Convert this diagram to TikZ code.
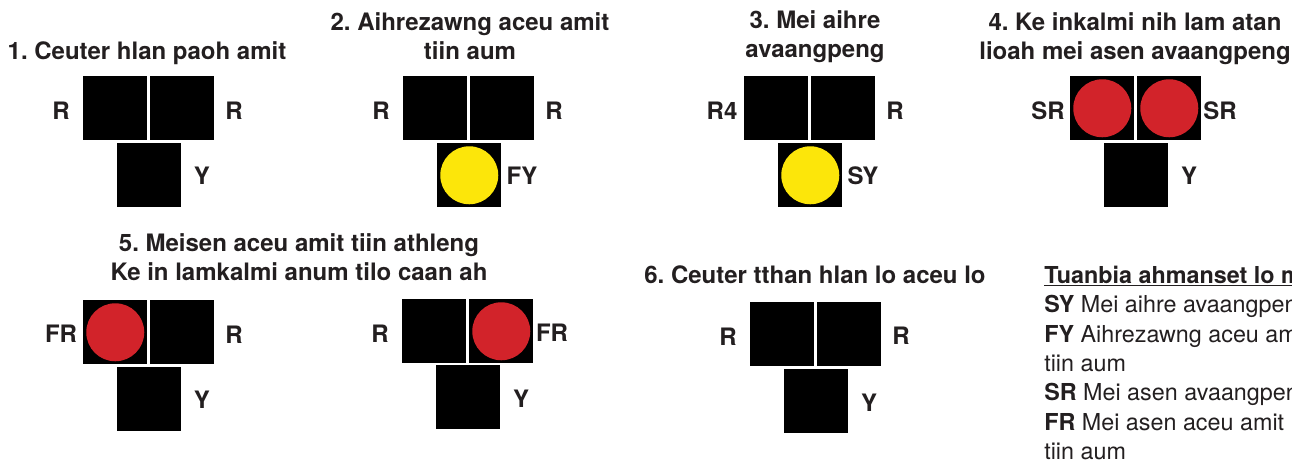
\documentclass[tikz,border=0pt]{standalone}
\usepackage{fontspec}
\setmainfont{TeX Gyre Heros}
\frenchspacing
\definecolor{inkgray}{HTML}{231F20}
\definecolor{lampred}{HTML}{D2232A}
\definecolor{lampyellow}{HTML}{FCE60A}
\tikzset{
  lampbox/.style={fill=black, inner sep=0pt, minimum size=48pt, anchor=north west},
  redlamp/.style={circle, fill=lampred, inner sep=0pt, minimum size=43.5pt},
  yellowlamp/.style={circle, fill=lampyellow, inner sep=0pt, minimum size=43.5pt},
  sig/.style={text=inkgray, inner sep=0pt, font=\fontsize{18}{18}\bfseries\selectfont},
  heading/.style={text=inkgray, inner sep=0pt, align=center, font=\fontsize{18}{21.5}\bfseries\selectfont},
  legend/.style={text=inkgray, inner sep=0pt, align=left, anchor=north west, font=\fontsize{17.5}{22}\selectfont}
}
\begin{document}
\begin{tikzpicture}[x=0.75pt, y=-0.75pt]
\useasboundingbox (0,0) rectangle (1292,461);
\clip (0,0) rectangle (1292,461);

% top row
\node[heading] (head1) at (147, 53) {1. Ceuter hlan paoh amit};
\node[lampbox] (a1l) at (83, 76) {};
\node[lampbox] (a1r) at (150, 76) {};
\node[lampbox] (a1b) at (117, 143) {};
\node[sig] (t1l) at (61, 111) {R};
\node[sig] (t1r) at (234, 111) {R};
\node[sig] (t1b) at (202, 176) {Y};

\node[heading] (head2) at (470, 36) {2. Aihrezawng aceu amit\\tiin aum};
\node[lampbox] (a2l) at (403, 76) {};
\node[lampbox] (a2r) at (470, 76) {};
\node[lampbox] (a2b) at (437, 143) {};
\node[yellowlamp] (c2b) at (a2b.center) {};
\node[sig] (t2l) at (381, 111) {R};
\node[sig] (t2r) at (554, 111) {R};
\node[sig] (t2b) at (522, 176) {FY};

\node[heading] (head3) at (815, 37) {3. Mei aihre\\avaangpeng};
\node[lampbox] (a3l) at (744, 76) {};
\node[lampbox] (a3r) at (811, 76) {};
\node[lampbox] (a3b) at (778, 143) {};
\node[yellowlamp] (c3b) at (a3b.center) {};
\node[sig] (t3l) at (722, 111) {R4};
\node[sig] (t3r) at (895, 111) {R};
\node[sig] (t3b) at (863, 176) {SY};

\node[heading] (head4) at (1135, 39) {4. Ke inkalmi nih lam atan\\lioah mei asen avaangpeng};
\node[lampbox] (a4l) at (1070, 76) {};
\node[lampbox] (a4r) at (1137, 76) {};
\node[lampbox] (a4b) at (1104, 143) {};
\node[redlamp] (c4l) at (a4l.center) {};
\node[redlamp] (c4r) at (a4r.center) {};
\node[sig] (t4l) at (1048, 111) {SR};
\node[sig] (t4r) at (1220, 111) {SR};
\node[sig] (t4b) at (1189, 176) {Y};

% bottom row
\node[heading] (head5) at (299, 257) {5. Meisen aceu amit tiin athleng\\Ke in lamkalmi anum tilo caan ah};
\node[lampbox] (a5l) at (83, 300) {};
\node[lampbox] (a5r) at (150, 300) {};
\node[lampbox] (a5b) at (117, 367) {};
\node[redlamp] (c5l) at (a5l.center) {};
\node[sig] (t5l) at (61, 334) {FR};
\node[sig] (t5r) at (234, 335) {R};
\node[sig] (t5b) at (202, 400) {Y};

\node[lampbox] (b5l) at (402, 299) {};
\node[lampbox] (b5r) at (469, 299) {};
\node[lampbox] (b5b) at (436, 365) {};
\node[redlamp] (d5r) at (b5r.center) {};
\node[sig] (u5l) at (380, 334) {R};
\node[sig] (u5r) at (552, 333) {FR};
\node[sig] (u5b) at (521, 399) {Y};

\node[heading] (head6) at (815, 275) {6. Ceuter tthan hlan lo aceu lo};
\node[lampbox] (a6l) at (750, 302) {};
\node[lampbox] (a6r) at (817, 302) {};
\node[lampbox] (a6b) at (784, 369) {};
\node[sig] (t6l) at (728, 337) {R};
\node[sig] (t6r) at (901, 336) {R};
\node[sig] (t6b) at (869, 403) {Y};

\node[legend] (key) at (1044, 266) {\textbf{\underline{Tuanbia ahmanset lo m}}\\
  \textbf{SY} Mei aihre avaangpen\\
  \textbf{FY} Aihrezawng aceu am\\
  tiin aum\\
  \textbf{SR} Mei asen avaangpen\\
  \textbf{FR} Mei asen aceu amit\\
  tiin aum};
\end{tikzpicture}
\end{document}
